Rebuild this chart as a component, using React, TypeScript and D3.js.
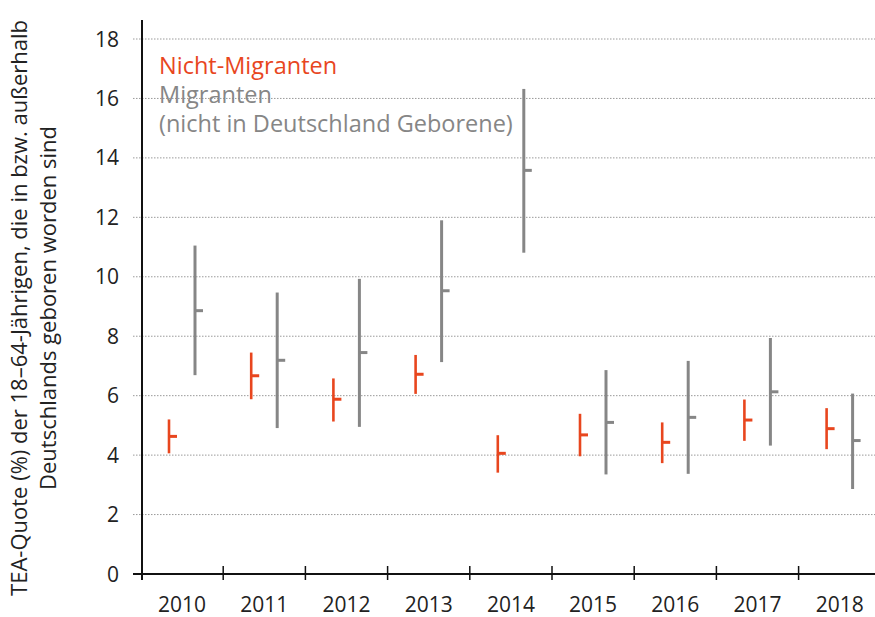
import React from "react";
import * as d3 from "d3";

// TEA-Quote range plot: Nicht-Migranten vs. Migranten, 2010–2018
const years = ["2010", "2011", "2012", "2013", "2014", "2015", "2016", "2017", "2018"];

const nonMigMid = [4.63, 6.67, 5.88, 6.72, 4.06, 4.68, 4.43, 5.18, 4.89];
const nonMigLow = [4.06, 5.88, 5.13, 6.06, 3.41, 3.96, 3.73, 4.48, 4.2];
const nonMigHigh = [5.2, 7.45, 6.58, 7.37, 4.67, 5.39, 5.1, 5.87, 5.58];

const migMid = [8.86, 7.19, 7.45, 9.53, 13.58, 5.1, 5.27, 6.13, 4.49];
const migLow = [6.69, 4.91, 4.95, 7.13, 10.81, 3.35, 3.37, 4.32, 2.86];
const migHigh = [11.05, 9.47, 9.93, 11.9, 16.32, 6.86, 7.17, 7.94, 6.07];

const yTicks = [0, 2, 4, 6, 8, 10, 12, 14, 16, 18];

const RED = "#e8461e";
const GRAY = "#868686";
const FONT = "'Open Sans', sans-serif";

export default function App() {
  const W = 875;
  const H = 617;
  const left = 141;
  const x = d3.scaleBand<string>().domain(years).range([left, left + 82.2 * 9]);
  const y = d3.scaleLinear().domain([0, 18]).range([574, 39]);

  const series = [
    { color: RED, off: 28, mid: nonMigMid, low: nonMigLow, high: nonMigHigh, w: 2.6 },
    { color: GRAY, off: 54, mid: migMid, low: migLow, high: migHigh, w: 3 },
  ];

  return (
    <svg width={W} height={H} style={{ position: "absolute", left: 0, top: 0 }}>
      <rect width={W} height={H} fill="#fff" />
      {/* gridlines */}
      {yTicks.filter((t) => t > 0).map((t) => (
        <line key={t} x1={133} x2={W} y1={y(t)} y2={y(t)} stroke="#9a9a9a" strokeWidth={1} strokeDasharray="1.5,1.5" />
      ))}
      {yTicks.map((t) => (
        <text key={"l" + t} x={119} y={y(t)} dy="0.36em" textAnchor="end" fontFamily={FONT} fontSize={21} fill="#222">
          {t}
        </text>
      ))}
      {/* axes */}
      <line x1={142} x2={142} y1={20} y2={580} stroke="#111" strokeWidth={2} />
      <line x1={133} x2={142} y1={y(0)} y2={y(0)} stroke="#111" strokeWidth={2} />
      <line x1={142} x2={W} y1={y(0)} y2={y(0)} stroke="#111" strokeWidth={2} />
      {years.slice(1).map((yr) => (
        <line key={"t" + yr} x1={x(yr)!} x2={x(yr)!} y1={566} y2={580} stroke="#111" strokeWidth={1.5} />
      ))}
      {years.map((yr) => (
        <text key={"x" + yr} x={x(yr)! + x.bandwidth() / 2} y={612} textAnchor="middle" fontFamily={FONT} fontSize={21} fill="#222">
          {yr}
        </text>
      ))}
      {/* range marks */}
      {series.map((s, si) =>
        years.map((yr, i) => {
          const cx = x(yr)! + s.off;
          return (
            <g key={si + yr}>
              <line x1={cx} x2={cx} y1={y(s.low[i])} y2={y(s.high[i])} stroke={s.color} strokeWidth={s.w} />
              <line x1={cx} x2={cx + 8} y1={y(s.mid[i])} y2={y(s.mid[i])} stroke={s.color} strokeWidth={3} />
            </g>
          );
        })
      )}
      {/* legend */}
      <text x={159} y={74} fontFamily={FONT} fontSize={23.5} fill={RED}>Nicht-Migranten</text>
      <text x={159} y={103} fontFamily={FONT} fontSize={23.5} fill={GRAY}>Migranten</text>
      <text x={159} y={132} fontFamily={FONT} fontSize={23.5} fill={GRAY}>(nicht in Deutschland Geborene)</text>
      {/* y title */}
      <g transform="translate(0,308) rotate(-90)">
        <text x={0} y={27} textAnchor="middle" fontFamily={FONT} fontSize={22} fill="#222">
          TEA-Quote (%) der 18–64-Jährigen, die in bzw. außerhalb
        </text>
        <text x={0} y={56} textAnchor="middle" fontFamily={FONT} fontSize={22} fill="#222">
          Deutschlands geboren worden sind
        </text>
      </g>
    </svg>
  );
}
